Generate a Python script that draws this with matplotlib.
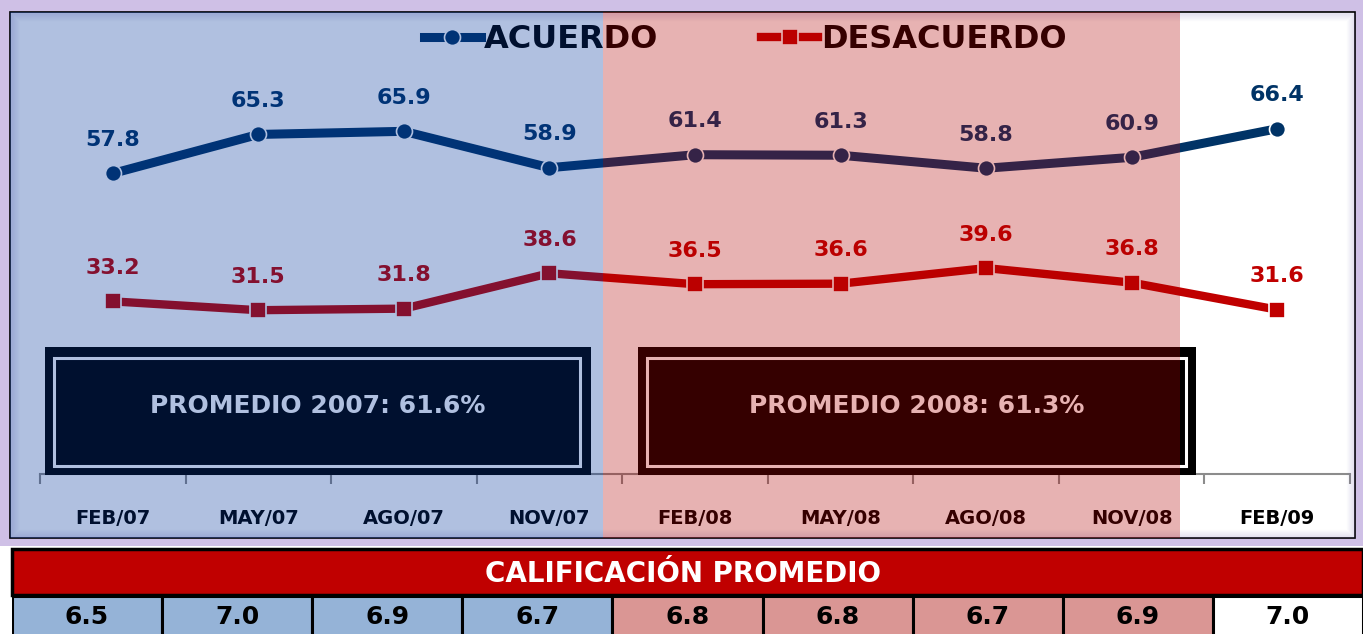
import numpy as np
import matplotlib.pyplot as plt
from matplotlib.patches import Rectangle

# datos
meses = ['FEB/07', 'MAY/07', 'AGO/07', 'NOV/07', 'FEB/08', 'MAY/08', 'AGO/08', 'NOV/08', 'FEB/09']
acuerdo = [57.8, 65.3, 65.9, 58.9, 61.4, 61.3, 58.8, 60.9, 66.4]
desacuerdo = [33.2, 31.5, 31.8, 38.6, 36.5, 36.6, 39.6, 36.8, 31.6]
calificacion = [6.5, 7.0, 6.9, 6.7, 6.8, 6.8, 6.7, 6.9, 7.0]
periodo = ['2007', '2007', '2007', '2007', '2008', '2008', '2008', '2008', '2009']
promedios = ['PROMEDIO 2007: 61.6%', 'PROMEDIO 2008: 61.3%']

W, H = 1363, 634
AZUL = '#003366'
ROJO = '#C00000'
colores_celda = {'2007': '#95B3D7', '2008': '#DA9694', '2009': 'white'}

plt.rcParams['font.family'] = 'DejaVu Sans'
fig = plt.figure(figsize=(W / 100, H / 100), dpi=100, facecolor='white')


def rect_px(x0, y0, x1, y1, **kw):
    # rectangulo en pixeles, origen arriba a la izquierda
    r = Rectangle((x0 / W, 1 - y1 / H), (x1 - x0) / W, (y1 - y0) / H,
                  transform=fig.transFigure, **kw)
    fig.add_artist(r)
    return r


def text_px(x, y, s, **kw):
    return fig.text(x / W, 1 - y / H, s, ha='center', va='center', **kw)


# marco con brillo lila
rect_px(0, 0, W, 546, facecolor='#CFC0E6', edgecolor='none', zorder=-3)
rect_px(10, 12, 1355, 538, facecolor='white', edgecolor='black', lw=1.2, zorder=-2)
for k in range(8):
    rect_px(11 + k, 13 + k, 1354 - k, 537 - k, fill=False, edgecolor='#6A5AB0',
            lw=1, alpha=0.14 * (1 - k / 8), zorder=9)

# grafica principal
ax = fig.add_axes([40 / W, 1 - 474 / H, 1310 / W, (474 - 16) / H])
ax.patch.set_visible(False)
x = np.arange(len(meses))
ax.plot(x, acuerdo, color=AZUL, lw=6.5, marker='o', ms=11.5, mfc=AZUL, mec='white',
        mew=1.2, solid_joinstyle='round', label='ACUERDO')
ax.plot(x, desacuerdo, color=ROJO, lw=6, marker='s', ms=11, mfc=ROJO, mec='white',
        mew=1.2, solid_joinstyle='round', label='DESACUERDO')
for i in range(len(meses)):
    ax.annotate(f'{acuerdo[i]:.1f}', (x[i], acuerdo[i]), xytext=(0, 24),
                textcoords='offset points', ha='center', va='center',
                fontsize=16, fontweight='bold', color=AZUL)
    ax.annotate(f'{desacuerdo[i]:.1f}', (x[i], desacuerdo[i]), xytext=(0, 24),
                textcoords='offset points', ha='center', va='center',
                fontsize=16, fontweight='bold', color=ROJO)

ax.set_xlim(-0.5, len(meses) - 0.5)
ax.set_ylim(0, (474 - 16) / 5.2)
ax.set_yticks([])
ax.set_xticks(x)
ax.set_xticklabels(meses, fontsize=14, fontweight='bold')
ax.set_xticks(np.arange(-0.5, len(meses)), minor=True)
ax.tick_params(axis='x', which='major', length=0, pad=25)
ax.tick_params(axis='x', which='minor', length=7, width=1.5, color='#8C8C8C')
for s in ['top', 'left', 'right']:
    ax.spines[s].set_visible(False)
ax.spines['bottom'].set_color('#8C8C8C')
ax.spines['bottom'].set_linewidth(1.5)

leg = ax.legend(loc='upper left', bbox_to_anchor=(0.283, 1.01), ncol=2, frameon=False,
                prop={'size': 23, 'weight': 'bold'}, handlelength=1.8,
                handletextpad=0.1, columnspacing=3.2, borderaxespad=0)

# cajas de promedio
cajas = [(45, 591, 54, 580), (638, 1196, 647, 1186)]
for (x0, x1, i0, i1), txt in zip(cajas, promedios):
    rect_px(x0, 347, x1, 475, facecolor='black', edgecolor='none', zorder=2)
    rect_px(i0, 358, i1, 466, fill=False, edgecolor='white', lw=2.2, zorder=2)
    text_px((x0 + x1) / 2, 406, txt, color='white', fontsize=18, fontweight='bold', zorder=3)

# sombreado por año (encima de todo)
rect_px(10, 12, 603, 538, facecolor='#00349B', edgecolor='none', alpha=0.31, zorder=10)
rect_px(603, 12, 1180, 538, facecolor='#B00000', edgecolor='none', alpha=0.30, zorder=10)

# tabla de calificacion
rect_px(12, 549, 1363, 595, facecolor=ROJO, edgecolor='black', lw=2.5, zorder=2)
text_px(683, 574, 'CALIFICACIÓN PROMEDIO', color='white', fontsize=20,
        fontweight='bold', zorder=3)

axt = fig.add_axes([12 / W, 1 - 660 / H, (W - 12) / W, (660 - 596) / H])
axt.bar(x, np.ones(len(x)), width=1, color=[colores_celda[p] for p in periodo],
        edgecolor='black', linewidth=2.2)
for i, v in enumerate(calificacion):
    axt.text(x[i], 0.67, f'{v:.1f}', ha='center', va='center', fontsize=18,
             fontweight='bold', color='black')
axt.set_xlim(-0.5, len(x) - 0.5)
axt.set_ylim(0, 1)
axt.axis('off')

fig.savefig('out.png', dpi=100, facecolor='white')
